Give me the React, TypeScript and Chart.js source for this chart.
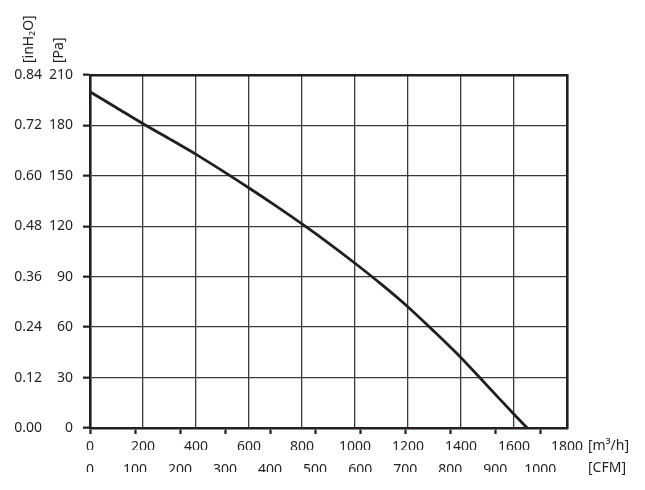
import React, { useEffect, useRef } from "react";
import { Chart, registerables } from "chart.js";

Chart.register(...registerables);

// ---- data ----
const flowM3h = [0, 100, 200, 300, 400, 500, 600, 700, 800, 900, 1000, 1100, 1200, 1300, 1400, 1500, 1600, 1650];
const pressurePa = [200, 190.5, 181, 172, 162.8, 153, 142.8, 132.3, 121.4, 110, 98, 85.4, 72, 57.2, 41.8, 25, 8.2, 0];

const m3hTicks = [0, 200, 400, 600, 800, 1000, 1200, 1400, 1600, 1800];
const cfmTicks = [0, 100, 200, 300, 400, 500, 600, 700, 800, 900, 1000];
const paTicks = [0, 30, 60, 90, 120, 150, 180, 210];
const inH2OTicks = [0, 0.12, 0.24, 0.36, 0.48, 0.6, 0.72, 0.84];

const yUnitLabels = ["[inH\u2082O]", "[Pa]"];
const xUnitLabels = ["[m\u00b3/h]", "[CFM]"];

const M3H_PER_CFM = 1.699;
const X_MAX = 1800;
const PA_MAX = 210;
const INH2O_MAX = 0.84;

const INK = "#231f20";
const GRID = "#3a3a3a";
const FONT_FAMILY = '"Noto Sans", "Open Sans", sans-serif';
const font = { family: FONT_FAMILY, size: 14 };

const setTicks = (arr: number[]) => (scale: any) => {
  scale.ticks = arr.map((v) => ({ value: v }));
};
const plain = (v: any) => String(v);

const unitsPlugin = {
  id: "unitsPlugin",
  afterDraw(chart: any) {
    const { ctx, chartArea } = chart;
    ctx.save();
    ctx.fillStyle = INK;
    ctx.font = `14px ${FONT_FAMILY}`;
    ctx.textBaseline = "middle";
    ctx.textAlign = "left";
    ctx.fillText(xUnitLabels[0], chartArea.right + 21, chartArea.bottom + 18);
    ctx.fillText(xUnitLabels[1], chartArea.right + 21, chartArea.bottom + 40);
    const ys = [29.5, 59];
    yUnitLabels.forEach((t, i) => {
      ctx.save();
      ctx.translate(ys[i], chartArea.top - 12);
      ctx.rotate(-Math.PI / 2);
      ctx.fillText(t, 0, 0);
      ctx.restore();
    });
    ctx.restore();
  },
};

export default function App() {
  const ref = useRef<HTMLCanvasElement | null>(null);

  useEffect(() => {
    if (!ref.current) return;
    const chart = new Chart(ref.current, {
      type: "line",
      data: {
        datasets: [
          {
            data: flowM3h.map((x, i) => ({ x, y: pressurePa[i] })),
            borderColor: INK,
            borderWidth: 2.8,
            pointRadius: 0,
            fill: false,
            tension: 0.3,
            xAxisID: "x",
            yAxisID: "y",
          } as any,
        ],
      },
      options: {
        animation: false,
        responsive: false,
        maintainAspectRatio: false,
        events: [],
        layout: { padding: { left: 5, right: 78, top: 75, bottom: 18 } },
        plugins: { legend: { display: false }, tooltip: { enabled: false } },
        scales: {
          x: {
            type: "linear",
            position: "bottom",
            weight: 1,
            min: 0,
            max: X_MAX,
            afterBuildTicks: setTicks(m3hTicks),
            afterFit: (s: any) => {
              s.height = 14;
            },
            ticks: { padding: 3, color: INK, font, maxRotation: 0, autoSkip: false, callback: plain },
            grid: { drawOnChartArea: true, drawTicks: false, color: GRID, lineWidth: 1.3 },
            border: { display: false },
          },
          xTicks: {
            type: "linear",
            position: "bottom",
            weight: 0,
            min: 0,
            max: X_MAX / M3H_PER_CFM,
            afterBuildTicks: setTicks(cfmTicks),
            afterFit: (s: any) => {
              s.height = 8;
            },
            ticks: { display: false },
            grid: { drawOnChartArea: false, drawTicks: true, tickLength: 6, tickColor: INK, tickWidth: 2.2, color: INK },
            border: { display: true, color: INK, width: 2.6 },
          },
          xCfm: {
            type: "linear",
            position: "bottom",
            weight: 2,
            min: 0,
            max: X_MAX / M3H_PER_CFM,
            afterBuildTicks: setTicks(cfmTicks),
            afterFit: (s: any) => {
              s.height = 22;
            },
            ticks: { padding: 12, color: INK, font, maxRotation: 0, autoSkip: false, callback: plain },
            grid: { display: false, drawTicks: false },
            border: { display: false },
          },
          xTop: {
            type: "linear",
            position: "top",
            min: 0,
            max: X_MAX,
            afterFit: (s: any) => {
              s.height = 0;
            },
            ticks: { display: false },
            grid: { display: false, drawTicks: false },
            border: { display: true, color: INK, width: 2.6 },
          },
          y: {
            type: "linear",
            position: "left",
            weight: 0,
            min: 0,
            max: PA_MAX,
            afterBuildTicks: setTicks(paTicks),
            afterFit: (s: any) => {
              s.width = 45;
            },
            ticks: { padding: 10, color: INK, font, autoSkip: false, callback: plain },
            grid: { color: GRID, lineWidth: 1.3, drawTicks: true, tickLength: 7, tickColor: INK, tickWidth: 2.2 },
            border: { display: true, color: INK, width: 2.6 },
          },
          yIn: {
            type: "linear",
            position: "left",
            weight: 1,
            min: 0,
            max: INH2O_MAX,
            afterBuildTicks: setTicks(inH2OTicks),
            afterFit: (s: any) => {
              s.width = 40;
            },
            ticks: {
              padding: 3,
              color: INK,
              font,
              autoSkip: false,
              callback: (v: any) => Number(v).toFixed(2),
            },
            grid: { display: false, drawTicks: false },
            border: { display: false },
          },
          yRight: {
            type: "linear",
            position: "right",
            min: 0,
            max: PA_MAX,
            afterFit: (s: any) => {
              s.width = 0;
            },
            ticks: { display: false },
            grid: { display: false, drawTicks: false },
            border: { display: true, color: INK, width: 2.6 },
          },
        },
      } as any,
      plugins: [unitsPlugin],
    });
    return () => chart.destroy();
  }, []);

  return (
    <div style={{ position: "absolute", left: 0, top: 0, width: 645, height: 490, background: "#fff" }}>
      <canvas ref={ref} width={645} height={490} style={{ display: "block" }} />
    </div>
  );
}
